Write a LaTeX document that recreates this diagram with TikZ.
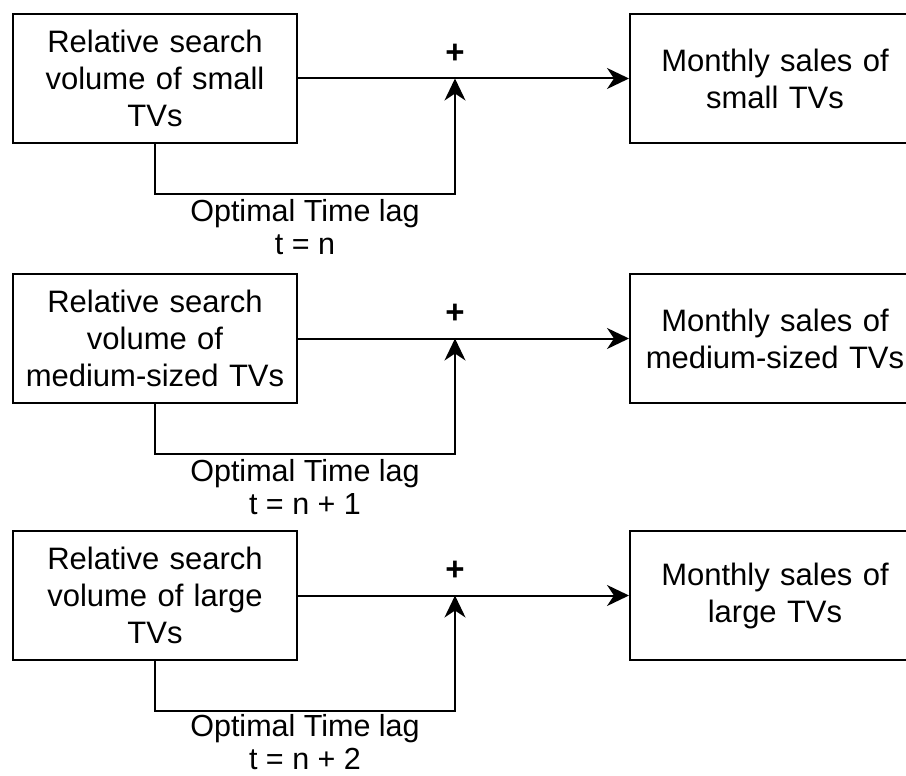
\documentclass[tikz,border=0pt]{standalone}
\usepackage{fontspec}
\setmainfont{Liberation Sans}
\usetikzlibrary{arrows.meta}
\tikzset{
  box/.style={draw=black, line width=2pt, minimum height=129pt, align=center, inner sep=0pt,
    font=\fontsize{31}{37}\selectfont},
  lbox/.style={box, minimum width=284pt, text width=284pt},
  rbox/.style={box, minimum width=290pt, text width=290pt},
  conn/.style={draw=black, line width=2pt},
  arr/.style={conn, -{Stealth[length=22pt,width=21pt,inset=7pt]}},
  lag/.style={align=center, inner sep=0pt, font=\fontsize{30.5}{33}\selectfont, anchor=north},
  plus/.style={font=\fontsize{33}{33}\selectfont\bfseries, inner sep=0pt}
}
\begin{document}
\begin{tikzpicture}[x=1pt,y=-1pt]
\useasboundingbox (0,0) rectangle (906,776);
\clip (0,0) rectangle (906,776);
% row 1
\node[lbox] (L1) at (155,78.5) {Relative search\\volume of small\\TVs};
\node[rbox] (R1) at (775,78.5) {Monthly sales of\\small TVs};
\coordinate (j1) at (455,78.5);
\draw[arr] (L1.east) -- (R1.west);
\draw[arr] (L1.south) -- ++(0,50) coordinate (b1) -| (j1);
\node[plus] (p1) at (455,54) {+};
\node[lag] (t1) at (305,199) {Optimal Time lag\\t = n};
% row 2
\node[lbox] (L2) at (155,338.5) {Relative search\\volume of\\medium-sized TVs};
\node[rbox] (R2) at (775,338.5) {Monthly sales of\\medium-sized TVs};
\coordinate (j2) at (455,338.5);
\draw[arr] (L2.east) -- (R2.west);
\draw[arr] (L2.south) -- ++(0,50) coordinate (b2) -| (j2);
\node[plus] (p2) at (455,314) {+};
\node[lag] (t2) at (305,459) {Optimal Time lag\\t = n + 1};
% row 3
\node[lbox] (L3) at (155,595.5) {Relative search\\volume of large\\TVs};
\node[rbox] (R3) at (775,595.5) {Monthly sales of\\large TVs};
\coordinate (j3) at (455,595.5);
\draw[arr] (L3.east) -- (R3.west);
\draw[arr] (L3.south) -- ++(0,50) coordinate (b3) -| (j3);
\node[plus] (p3) at (455,571) {+};
\node[lag] (t3) at (305,714) {Optimal Time lag\\t = n + 2};
\end{tikzpicture}
\end{document}
